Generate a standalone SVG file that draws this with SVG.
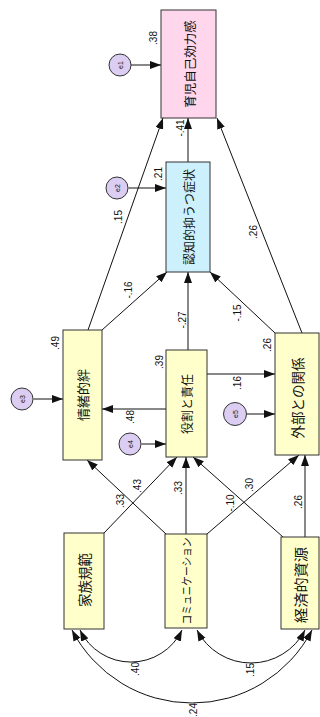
<svg xmlns="http://www.w3.org/2000/svg" width="320" height="717" viewBox="0 0 320 717">
<style>
.box{stroke:#333;stroke-width:1}
.y{fill:#ffffcc}
.p{fill:#ffd6ec}
.b{fill:#ccf0fc}
.err{fill:#dccdf2;stroke:#333;stroke-width:1}
.nt{font-family:"Noto Sans CJK JP","Noto Sans CJK SC",sans-serif;font-size:12.5px;fill:#111;text-anchor:middle;dominant-baseline:central}
.et{font-family:"Liberation Sans",sans-serif;font-size:7px;fill:#111;text-anchor:middle;dominant-baseline:central}
.lb{font-family:"Liberation Sans",sans-serif;font-size:10px;fill:#111;text-anchor:middle;dominant-baseline:central}
.ln{stroke:#111;stroke-width:1;fill:none;marker-end:url(#ah)}
.cv{stroke:#111;stroke-width:1;fill:none;marker-start:url(#ah);marker-end:url(#ah)}
</style>
<defs>
<marker id="ah" markerUnits="userSpaceOnUse" markerWidth="12" markerHeight="10" refX="11" refY="4" orient="auto-start-reverse">
<path d="M0,0 L11,4 L0,8 Z" fill="#111"/>
</marker>
</defs>
<rect width="320" height="717" fill="#fff"/>
<g id="connectors">
<line class="ln" x1="131" y1="65" x2="161" y2="65"/>
<line class="ln" x1="128.5" y1="188" x2="166" y2="188"/>
<line class="ln" x1="188" y1="162" x2="188" y2="118"/>
<line class="ln" x1="88" y1="330" x2="163" y2="118"/>
<line class="ln" x1="302" y1="333" x2="217" y2="118"/>
<line class="ln" x1="102" y1="330" x2="167" y2="272"/>
<line class="ln" x1="188" y1="350" x2="188" y2="272"/>
<line class="ln" x1="275" y1="333" x2="210" y2="272"/>
<line class="ln" x1="33.5" y1="399" x2="63" y2="399"/>
<line class="ln" x1="166" y1="409" x2="102" y2="409"/>
<line class="ln" x1="141.5" y1="444" x2="166" y2="444"/>
<line class="ln" x1="207" y1="374" x2="275" y2="374"/>
<line class="ln" x1="246.5" y1="414" x2="275" y2="414"/>
<line class="ln" x1="104" y1="533" x2="177" y2="457"/>
<line class="ln" x1="166" y1="534" x2="87" y2="460"/>
<line class="ln" x1="186" y1="534" x2="186" y2="457"/>
<line class="ln" x1="207" y1="534" x2="299" y2="455"/>
<line class="ln" x1="283" y1="537" x2="193" y2="457"/>
<line class="ln" x1="305" y1="537" x2="305" y2="455"/>
<path class="cv" d="M80,630 A56.6,56.6 0 0 0 182,630"/>
<path class="cv" d="M197,630 A60.7,60.7 0 0 0 305,630"/>
<path class="cv" d="M72,630 A135.1,135.1 0 0 0 312,630"/>
</g>
<g id="labels">
<text class="lb" transform="translate(153,38) rotate(-90)">.38</text>
<text class="lb" transform="translate(158,174) rotate(-90)">.21</text>
<text class="lb" transform="translate(180,128) rotate(-90)">-.41</text>
<text class="lb" transform="translate(118,217) rotate(-90)">.15</text>
<text class="lb" transform="translate(253,232) rotate(-90)">.26</text>
<text class="lb" transform="translate(128,290) rotate(-90)">-.16</text>
<text class="lb" transform="translate(182,320) rotate(-90)">-.27</text>
<text class="lb" transform="translate(237,313) rotate(-90)">-.15</text>
<text class="lb" transform="translate(55,343) rotate(-90)">.49</text>
<text class="lb" transform="translate(159,362) rotate(-90)">.39</text>
<text class="lb" transform="translate(267,345) rotate(-90)">.26</text>
<text class="lb" transform="translate(130,417) rotate(-90)">.48</text>
<text class="lb" transform="translate(237,383) rotate(-90)">.16</text>
<text class="lb" transform="translate(120,501) rotate(-90)">.33</text>
<text class="lb" transform="translate(137,486) rotate(-90)">.43</text>
<text class="lb" transform="translate(178,488) rotate(-90)">.33</text>
<text class="lb" transform="translate(230,503) rotate(-90)">-.10</text>
<text class="lb" transform="translate(249,485) rotate(-90)">.30</text>
<text class="lb" transform="translate(298,502) rotate(-90)">.26</text>
<text class="lb" transform="translate(135,669) rotate(-90)">.40</text>
<text class="lb" transform="translate(250,670) rotate(-90)">.15</text>
<text class="lb" transform="translate(193,710) rotate(-90)">.24</text>
</g>
<g id="n-jiko">
<rect class="box p" x="161" y="10" width="55" height="108"/>
<text class="nt" transform="translate(189,64) rotate(-90)">育児自己効力感</text>
</g>
<g id="n-yokuutsu">
<rect class="box b" x="166" y="162" width="44" height="110"/>
<text class="nt" style="font-size:12px" transform="translate(188,217) rotate(-90)">認知的抑うつ症状</text>
</g>
<g id="n-kizuna">
<rect class="box y" x="63" y="330" width="39" height="130"/>
<text class="nt" style="font-size:13px" transform="translate(82.5,395) rotate(-90)">情緒的絆</text>
</g>
<g id="n-yakuwari">
<rect class="box y" x="166" y="350" width="41" height="107"/>
<text class="nt" style="font-size:12px" transform="translate(186.5,404) rotate(-90)">役割と責任</text>
</g>
<g id="n-gaibu">
<rect class="box y" x="275" y="333" width="44" height="122"/>
<text class="nt" style="font-size:13.5px" transform="translate(297,398) rotate(-90)">外部との関係</text>
</g>
<g id="n-kihan">
<rect class="box y" x="64" y="533" width="40" height="96"/>
<text class="nt" style="font-size:13.5px" transform="translate(84,580) rotate(-90)">家族規範</text>
</g>
<g id="n-comm">
<rect class="box y" x="165" y="534" width="42" height="94"/>
<text class="nt" style="font-size:11px" transform="translate(186,581) rotate(-90)" textLength="87" lengthAdjust="spacingAndGlyphs">コミュニケーション</text>
</g>
<g id="n-keizai">
<rect class="box y" x="281" y="537" width="38" height="92"/>
<text class="nt" style="font-size:14px" transform="translate(300,585) rotate(-90)" textLength="76" lengthAdjust="spacingAndGlyphs">経済的資源</text>
</g>
<g id="e1"><circle class="err" cx="120" cy="65" r="11"/><text class="et" transform="translate(120,65) rotate(-90)">e1</text></g>
<g id="e2"><circle class="err" cx="117" cy="188" r="11"/><text class="et" transform="translate(117,188) rotate(-90)">e2</text></g>
<g id="e3"><circle class="err" cx="22" cy="399" r="11"/><text class="et" transform="translate(22,399) rotate(-90)">e3</text></g>
<g id="e4"><circle class="err" cx="130" cy="444" r="11"/><text class="et" transform="translate(130,444) rotate(-90)">e4</text></g>
<g id="e5"><circle class="err" cx="235" cy="414" r="11.5"/><text class="et" transform="translate(235,414) rotate(-90)">e5</text></g>
</svg>
